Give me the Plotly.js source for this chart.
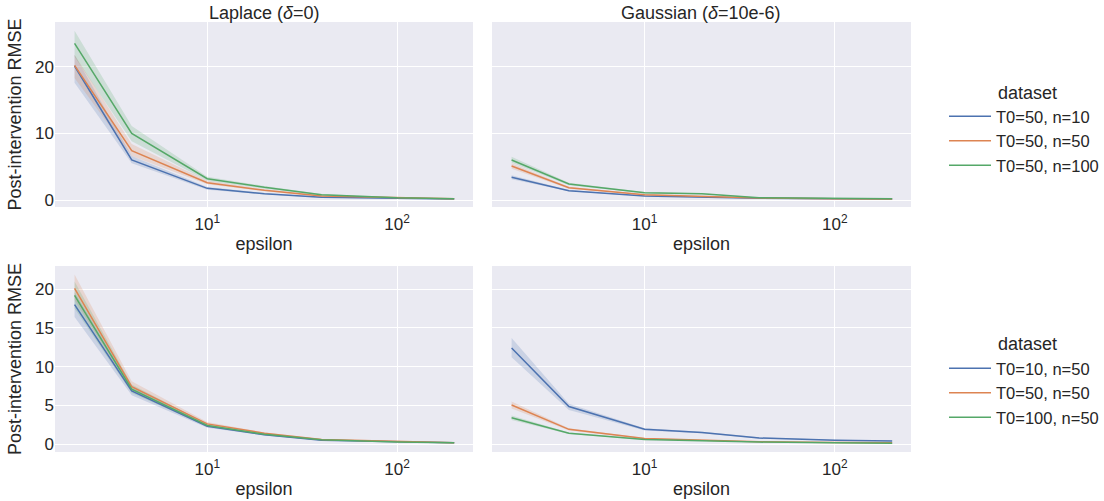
<!DOCTYPE html>
<html>
<head>
<meta charset="utf-8">
<script src="https://cdn.plot.ly/plotly-3.0.1.min.js"></script>
<style>html,body{margin:0;padding:0;background:#fff}#chart{width:1104px;height:501px}</style>
</head>
<body>
<div id="chart"></div>
<script>
// ---- data ----
const epsilon = [2, 4, 10, 20, 40, 100, 200];

const panelTitles = ['Laplace (<i>δ</i>=0)', 'Gaussian (<i>δ</i>=10e-6)'];
const topLabels = ['T0=50, n=10', 'T0=50, n=50', 'T0=50, n=100'];
const bottomLabels = ['T0=10, n=50', 'T0=50, n=50', 'T0=100, n=50'];
const legendTitle = 'dataset';
const xLabel = 'epsilon';
const yLabel = 'Post-intervention RMSE';
const xTickVals = [10, 100];
const xTickText = ['10<sup>1</sup>', '10<sup>2</sup>'];

// top-left: Laplace, varying n
const tlMean = [[20.1, 6.0, 1.75, 0.95, 0.4, 0.25, 0.15],
                [20.2, 7.4, 2.6, 1.45, 0.6, 0.3, 0.18],
                [23.5, 10.0, 3.2, 1.9, 0.8, 0.35, 0.2]];
const tlLo   = [[17.6, 5.5, 1.55, 0.85, 0.35, 0.2, 0.12],
                [18.3, 6.6, 2.35, 1.3, 0.5, 0.25, 0.15],
                [21.5, 8.8, 2.9, 1.7, 0.7, 0.3, 0.17]];
const tlHi   = [[21.8, 6.6, 1.95, 1.05, 0.45, 0.3, 0.18],
                [21.8, 8.4, 2.9, 1.6, 0.7, 0.35, 0.22],
                [25.4, 11.1, 3.5, 2.1, 0.9, 0.4, 0.23]];

// top-right: Gaussian, varying n
const trMean = [[3.4, 1.4, 0.6, 0.45, 0.25, 0.2, 0.15],
                [5.1, 1.85, 0.8, 0.6, 0.3, 0.2, 0.15],
                [6.0, 2.4, 1.1, 0.95, 0.35, 0.25, 0.2]];
const trLo   = [[3.1, 1.3, 0.55, 0.4, 0.22, 0.18, 0.13],
                [4.7, 1.7, 0.72, 0.55, 0.27, 0.18, 0.13],
                [5.6, 2.2, 1.0, 0.88, 0.32, 0.22, 0.18]];
const trHi   = [[3.7, 1.5, 0.65, 0.5, 0.28, 0.22, 0.17],
                [5.5, 2.0, 0.88, 0.65, 0.33, 0.22, 0.17],
                [6.5, 2.6, 1.2, 1.02, 0.38, 0.28, 0.22]];

// bottom-left: Laplace, varying T0
const blMean = [[18.0, 6.85, 2.3, 1.2, 0.5, 0.25, 0.15],
                [20.1, 7.4, 2.6, 1.4, 0.6, 0.3, 0.15],
                [19.2, 7.1, 2.4, 1.25, 0.55, 0.25, 0.15]];
const blLo   = [[16.4, 6.3, 2.1, 1.1, 0.45, 0.22, 0.13],
                [18.6, 6.9, 2.4, 1.3, 0.55, 0.27, 0.13],
                [17.5, 6.6, 2.25, 1.15, 0.5, 0.22, 0.13]];
const blHi   = [[19.6, 7.4, 2.5, 1.3, 0.55, 0.28, 0.17],
                [21.9, 8.1, 2.85, 1.5, 0.65, 0.33, 0.17],
                [21.0, 7.7, 2.6, 1.35, 0.6, 0.28, 0.17]];

// bottom-right: Gaussian, varying T0
const brMean = [[12.4, 4.85, 1.9, 1.5, 0.78, 0.5, 0.4],
                [5.05, 1.9, 0.7, 0.5, 0.3, 0.2, 0.15],
                [3.4, 1.4, 0.6, 0.45, 0.25, 0.15, 0.1]];
const brLo   = [[11.2, 4.4, 1.75, 1.4, 0.7, 0.45, 0.35],
                [4.6, 1.75, 0.62, 0.45, 0.27, 0.17, 0.13],
                [3.1, 1.3, 0.54, 0.4, 0.22, 0.13, 0.08]];
const brHi   = [[13.7, 5.2, 2.05, 1.6, 0.86, 0.55, 0.45],
                [5.5, 2.05, 0.78, 0.55, 0.33, 0.23, 0.17],
                [3.7, 1.5, 0.66, 0.5, 0.28, 0.17, 0.12]];

// ---- styling ----
const colors = ['#4C72B0', '#DD8452', '#55A868'];
const fills = ['rgba(76,114,176,0.2)', 'rgba(221,132,82,0.2)', 'rgba(85,168,104,0.2)'];
const FONT = 'Liberation Sans, Arial, sans-serif';

const traces = [];
function addPanel(mean, lo, hi, labels, xa, ya, legendName, showLegend) {
  for (let i = 0; i < 3; i++) {
    traces.push({x: epsilon, y: lo[i], xaxis: xa, yaxis: ya, mode: 'lines',
      line: {width: 0, color: colors[i]}, showlegend: false, hoverinfo: 'skip', legend: legendName});
    traces.push({x: epsilon, y: hi[i], xaxis: xa, yaxis: ya, mode: 'lines', fill: 'tonexty',
      fillcolor: fills[i], line: {width: 0, color: colors[i]}, showlegend: false, hoverinfo: 'skip', legend: legendName});
  }
  for (let i = 0; i < 3; i++) {
    traces.push({x: epsilon, y: mean[i], xaxis: xa, yaxis: ya, mode: 'lines', name: labels[i],
      line: {width: 1.5, color: colors[i]}, showlegend: showLegend, legend: legendName});
  }
}
addPanel(tlMean, tlLo, tlHi, topLabels, 'x', 'y', 'legend', true);
addPanel(trMean, trLo, trHi, topLabels, 'x2', 'y2', 'legend', false);
addPanel(blMean, blLo, blHi, bottomLabels, 'x3', 'y3', 'legend2', true);
addPanel(brMean, brLo, brHi, bottomLabels, 'x4', 'y4', 'legend2', false);

const W = 1104, H = 501;
const px = v => v / W, py = v => 1 - v / H;

function xaxis(d0, d1, anchor) {
  return {type: 'log', domain: [px(d0), px(d1)], range: [0.198, 2.40], anchor: anchor,
    tickvals: xTickVals, ticktext: xTickText, showgrid: true, gridcolor: '#ffffff', gridwidth: 1,
    zeroline: false, showline: false, ticks: '', ticklabelstandoff: 5, tickfont: {size: 17, color: '#262626'},
    title: {text: xLabel, font: {size: 18, color: '#262626'}, standoff: 4}};
}
function yaxis(d0, d1, anchor, range, dtick, showLabels) {
  const a = {domain: [py(d1), py(d0)], range: range, anchor: anchor, dtick: dtick, tick0: 0,
    showgrid: true, gridcolor: '#ffffff', gridwidth: 1, zeroline: false, showline: false, ticks: '',
    showticklabels: showLabels, tickfont: {size: 17, color: '#262626'}};
  if (showLabels) a.title = {text: yLabel, font: {size: 18, color: '#262626'}, standoff: 8};
  return a;
}

const legendCommon = {xanchor: 'left', yanchor: 'top', bgcolor: 'rgba(0,0,0,0)', traceorder: 'normal',
  font: {size: 16.5, color: '#262626'}, itemwidth: 42};

const layout = {
  width: W, height: H,
  margin: {l: 0, r: 0, t: 0, b: 0},
  paper_bgcolor: '#ffffff', plot_bgcolor: '#EAEAF2',
  font: {family: FONT, color: '#262626'},
  xaxis: xaxis(55, 473, 'y'),
  yaxis: yaxis(22, 207, 'x', [-1.05, 26.7], 10, true),
  xaxis2: xaxis(492, 911, 'y2'),
  yaxis2: yaxis(22, 207, 'x2', [-1.05, 26.7], 10, false),
  xaxis3: xaxis(55, 473, 'y3'),
  yaxis3: yaxis(266, 452, 'x3', [-1.03, 23.0], 5, true),
  xaxis4: xaxis(492, 911, 'y4'),
  yaxis4: yaxis(266, 452, 'x4', [-1.03, 23.0], 5, false),
  legend: Object.assign({x: px(944), y: py(99)}, legendCommon),
  legend2: Object.assign({x: px(944), y: py(351)}, legendCommon),
  annotations: [
    {text: panelTitles[0], x: px(264), y: py(13), xref: 'paper', yref: 'paper', showarrow: false,
     font: {size: 18, color: '#262626'}, xanchor: 'center', yanchor: 'middle'},
    {text: panelTitles[1], x: px(701), y: py(13), xref: 'paper', yref: 'paper', showarrow: false,
     font: {size: 18, color: '#262626'}, xanchor: 'center', yanchor: 'middle'},
    {text: legendTitle, x: px(996), y: py(93), xref: 'paper', yref: 'paper', showarrow: false,
     font: {size: 18, color: '#262626'}, xanchor: 'left', yanchor: 'middle'},
    {text: legendTitle, x: px(996), y: py(344), xref: 'paper', yref: 'paper', showarrow: false,
     font: {size: 18, color: '#262626'}, xanchor: 'left', yanchor: 'middle'}
  ]
};

Plotly.newPlot('chart', traces, layout, {displayModeBar: false, staticPlot: true});
</script>
</body>
</html>
